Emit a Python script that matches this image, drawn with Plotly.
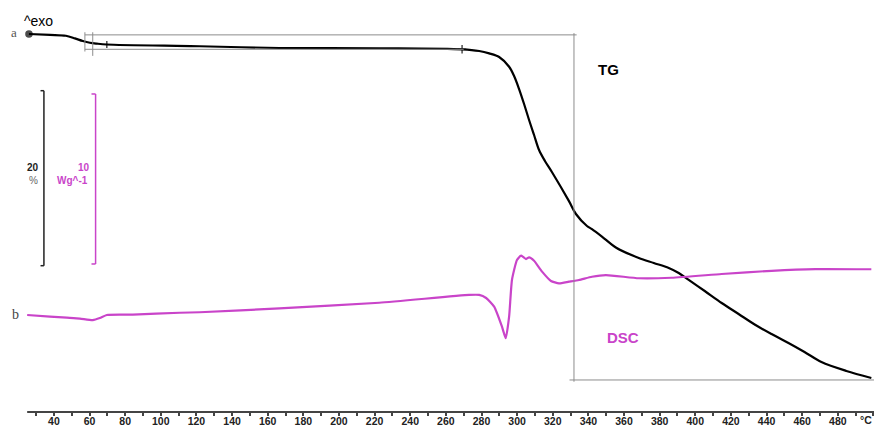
import plotly.graph_objects as go

# ---------------- data ----------------
tg_temp = [26.0, 37.8, 46.7, 51.8, 56.2, 60.2, 64.1, 69.7, 121.8, 166.6, 222.6, 269.1,
           278.7, 284.3, 289.9, 295.5, 298.3, 301.1, 303.9, 306.7, 309.5, 312.3, 315.6,
           319.6, 329.1, 333.0, 339.2, 342.0, 347.6, 355.4, 368.3, 376.7, 385.1,
           390.7, 396.3, 405.3, 414.8, 424.3, 433.8, 442.8, 452.3, 461.3, 470.8, 484.8,
           498.8]
tg_mass = [100.0, 99.9, 99.8, 99.5, 99.2, 99.0, 98.9, 98.8, 98.6, 98.4, 98.37, 98.25,
           98.06, 97.79, 97.37, 96.26, 95.2, 93.71, 92.0, 90.17, 88.46, 86.74, 85.49,
           84.2, 80.9, 79.43, 78.06, 77.7, 76.85, 75.6, 74.4, 73.83, 73.26,
           72.69, 71.89, 70.63, 69.26, 68.0, 66.74, 65.71, 64.69, 63.66, 62.51, 61.49,
           60.69]

dsc_temp = [25.0, 37.8, 47.3, 54.6, 61.8, 65.8, 69.7, 84.3, 110.6, 121.8, 166.6, 222.6,
            273.1, 278.7, 282.6, 287.1, 291.5, 293.6, 295.5, 297.1, 299.9, 302.2, 305.0,
            306.7, 309.5, 314.0, 319.0, 323.5, 329.1, 334.7, 342.0, 349.8, 368.3, 386.8,
            414.8, 442.8, 467.4, 498.8]
dsc_heat = [0.06, -0.04, -0.10, -0.15, -0.24, -0.12, 0.06, 0.08, 0.19, 0.22, 0.45, 0.78,
            1.24, 1.24, 1.06, 0.55, -0.63, -1.31, -0.04, 2.12, 3.29, 3.55, 3.35,
            3.45, 3.25, 2.61, 2.06, 1.92, 2.02, 2.12, 2.31, 2.41, 2.22, 2.25,
            2.47, 2.66, 2.76, 2.75]

tick_vals = [40, 60, 80, 100, 120, 140, 160, 180, 200, 220, 240, 260, 280, 300, 320,
             340, 360, 380, 400, 420, 440, 460, 480, 500]
tick_text = [str(v) for v in tick_vals[:-1]] + [""]
unit_label = "°C"
minor_vals = [30, 50, 70, 90, 110, 130, 150, 170, 190, 210, 230, 250, 270, 290, 310,
              330, 350, 370, 390, 410, 430, 450, 470, 490]

# step-analysis guide values
step_temp_lo = 57.4
step_temp_lo2 = 61.8
step_temp_hi = 331.9
step_mass_top = 99.9
step_mass_mid = 98.25
step_mass_bot = 60.46

MAG = "#c944c9"
GRID = "#8c8c8c"
W, H = 874, 427
PLOT_H = 412

fig = go.Figure()
fig.add_trace(go.Scatter(x=tg_temp, y=tg_mass, mode="lines", line=dict(color="black", width=2.2,
                         shape="spline", smoothing=0.9), yaxis="y", showlegend=False))
fig.add_trace(go.Scatter(x=dsc_temp, y=dsc_heat, mode="lines", line=dict(color=MAG, width=2.2,
                         shape="spline", smoothing=0.5), yaxis="y2", showlegend=False))
# small event markers on TG
fig.add_trace(go.Scatter(x=[26.0, 69.7, 269.1], y=[100.0, 98.8, 98.25], mode="markers",
                         marker=dict(color="black", size=[6, 5, 6], symbol=["circle", "line-ns-open", "cross-thin-open"],
                                     line=dict(color="black", width=1.5)),
                         yaxis="y", showlegend=False))

shapes = []
def seg(x0, y0, x1, y1, color=GRID, width=1, yref="y"):
    shapes.append(dict(type="line", xref="x", yref=yref, x0=x0, y0=y0, x1=x1, y1=y1,
                       line=dict(color=color, width=width)))

# TG step lines
seg(step_temp_lo, step_mass_top, step_temp_hi + 1.5, step_mass_top)
seg(step_temp_lo, step_mass_mid, 270, step_mass_mid)
seg(step_temp_lo, 100.2, step_temp_lo, 98.0)
seg(step_temp_lo2, 100.2, step_temp_lo2, 97.5)
seg(step_temp_hi, 100.1, step_temp_hi, step_mass_bot - 0.2)
seg(step_temp_hi - 2.5, step_mass_bot, 500.5, step_mass_bot)

# scale brackets: 20 % (TG) and 10 W/g (DSC)
seg(34.4, 93.52, 34.4, 73.52, color="#222222", width=1.5)
seg(32.5, 93.52, 34.4, 93.52, color="#222222", width=1.5)
seg(32.5, 73.52, 34.4, 73.52, color="#222222", width=1.5)
seg(63.4, 13.06, 63.4, 3.06, color=MAG, width=1.5, yref="y2")
seg(61.1, 13.06, 63.4, 13.06, color=MAG, width=1.5, yref="y2")
seg(61.1, 3.06, 63.4, 3.06, color=MAG, width=1.5, yref="y2")

# bottom axis line
shapes.append(dict(type="line", xref="x", yref="paper", x0=25, x1=500.5, y0=0, y1=0,
                   line=dict(color="#444444", width=2)))

def px(x):
    return x / W
def py(y):
    return (PLOT_H - y) / PLOT_H

ann = []
def txt(x, y, s, size, color="black", bold=False, family="Liberation Sans, Arial, sans-serif",
        xanchor="center"):
    ann.append(dict(x=px(x), y=py(y), xref="paper", yref="paper", text=s, showarrow=False,
                    xanchor=xanchor, yanchor="middle",
                    font=dict(size=size, color=color, family=family,
                              weight="bold" if bold else "normal")))

txt(38, 21, "^exo", 14)
txt(14, 33, "a", 13, color="#555555", family="Liberation Serif, Times New Roman, serif")
txt(15, 314, "b", 14, color="#444444", family="Liberation Serif, Times New Roman, serif")
txt(33, 167, "20", 10, color="#222222", bold=True)
txt(33, 180, "%", 10, color="#666666")
txt(84, 167, "10", 10, color=MAG, bold=True)
txt(90, 180, "Wg^-1", 10, color=MAG, bold=True, xanchor="right")
txt(608, 69, "TG", 15, bold=True)
txt(623, 337, "DSC", 15, color=MAG, bold=True)
txt(874, 420, unit_label, 10.5, color="#222222", bold=True, xanchor="right")

fig.update_layout(
    width=W, height=H,
    margin=dict(l=0, r=0, t=0, b=H - PLOT_H),
    paper_bgcolor="white", plot_bgcolor="white",
    shapes=shapes, annotations=ann,
    xaxis=dict(range=[9.75, 500.3], showgrid=False, zeroline=False, showline=False,
               tickmode="array", tickvals=tick_vals, ticktext=tick_text,
               ticks="outside", ticklen=3, tickwidth=1.5, tickcolor="#444444",
               ticklabelstandoff=-4, ticklabeloverflow="allow",
               minor=dict(tickmode="array", tickvals=minor_vals, ticks="outside", ticklen=3,
                          tickwidth=1.5, tickcolor="#444444", showgrid=False),
               tickfont=dict(size=10.5, color="#222222", family="Liberation Sans, Arial, sans-serif",
                             weight="bold"),
               automargin=False, fixedrange=True),
    yaxis=dict(range=[56.8, 103.886], visible=False, fixedrange=True),
    yaxis2=dict(range=[-5.647, 18.588], overlaying="y", visible=False, fixedrange=True),
    showlegend=False,
)

fig.write_html("out.html")
